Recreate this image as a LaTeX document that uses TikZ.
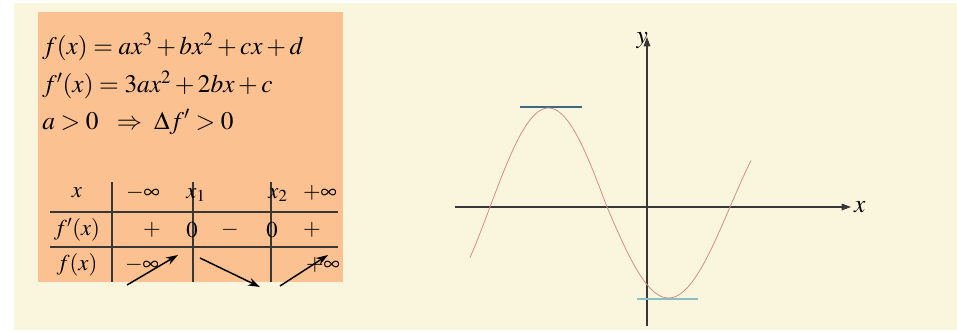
\documentclass[tikz,border=0pt]{standalone}
\usepackage{mathptmx}
\usepackage{fontspec}
\setmainfont{Liberation Serif}
\usetikzlibrary{arrows.meta}
\definecolor{cream}{RGB}{250,246,222}
\definecolor{peach}{RGB}{251,193,145}
\definecolor{tanblue}{RGB}{60,105,130}
\definecolor{tanteal}{RGB}{140,190,200}
\definecolor{curvered}{RGB}{214,140,140}
\definecolor{inkgray}{RGB}{55,55,55}

\tikzset{
  eqn/.style={anchor=west,font=\fontsize{19}{22}\selectfont,inner sep=0pt},
  tab/.style={font=\fontsize{17}{20}\selectfont,inner sep=0pt},
  var/.style={-{Stealth[length=9pt,width=6pt]},line width=1.1pt},
  axis/.style={-{Triangle[length=7pt,width=5pt]},line width=0.8pt,inkgray},
}

\begin{document}
\begin{tikzpicture}[x=0.75pt,y=-0.75pt]
\useasboundingbox (0,0) rectangle (957,332);
% Background
\fill[white] (0,0) rectangle (957,332);
\fill[cream] (14,3) rectangle (957,330);
\fill[peach] (38,12) rectangle (343,282);
% Formulas
\node[eqn] (fx) at (42,47) {$f(x)=ax^3+bx^2+cx+d$};
\node[eqn] (dfx) at (42,85) {$f'(x)=3ax^2+2bx+c$};
\node[eqn] (cond) at (42,122) {$a>0\ \ \Rightarrow\ \Delta f'>0$};

% Variation table
\draw[inkgray,line width=0.8pt] (50,212) -- (338,212) (50,247) -- (338,247);
\draw[inkgray,line width=0.8pt] (112,182) -- (112,282) (193,182) -- (193,282) (271,182) -- (271,282);
\node[tab] (hx) at (77,193) {$x$};
\node[tab] (minf) at (143,193) {$-\infty$};
\node[tab] (xone) at (196,195) {$x_1$};
\node[tab] (xtwo) at (278,195) {$x_2$};
\node[tab] (pinf) at (320,193) {$+\infty$};
\node[tab] (hd) at (77,230) {$f'(x)$};
\node[tab] (s1) at (152,230) {$+$};
\node[tab] (z1) at (192,230) {$0$};
\node[tab] (s2) at (230,230) {$-$};
\node[tab] (z2) at (272,230) {$0$};
\node[tab] (s3) at (312,230) {$+$};
\node[tab] (hf) at (77,265) {$f(x)$};
\node[tab] (fminf) at (142,265) {$-\infty$};
\node[tab] (fpinf) at (323,265) {$+\infty$};
\coordinate (a1) at (127,285);
\coordinate (b1) at (178,255);
\coordinate (a2) at (200,258);
\coordinate (b2) at (260,287);
\coordinate (a3) at (280,286);
\coordinate (b3) at (328,255);
\draw[var] (a1) -- (b1);
\draw[var] (a2) -- (b2);
\draw[var] (a3) -- (b3);

% Axes
\coordinate (xs) at (455,207);
\coordinate (xe) at (851,207);
\coordinate (ys) at (647,326);
\coordinate (ye) at (647,37);
\draw[axis] (xs) -- (xe) node[right,inner sep=2pt,font=\fontsize{19}{22}\selectfont,black] (xl) {$x$};
\draw[axis] (ys) -- (ye) node[left,inner sep=0pt,xshift=1pt,yshift=-3pt,font=\fontsize{19}{22}\selectfont,black] (yl) {$y$};

% Tangents at extrema
\draw[tanblue,line width=0.8pt] (520,107) -- (582,107);
\draw[tanteal,line width=0.8pt] (637,299) -- (698,299);

% Cubic curve
\draw[curvered,line width=0.6pt] plot[domain=470:607,samples=60] (\x,{207-99*sin(1.5385*(\x-490))});
\draw[curvered,line width=0.6pt] plot[domain=607:751,samples=60] (\x,{207+91*sin(1.4634*(\x-607))});
\end{tikzpicture}
\end{document}
